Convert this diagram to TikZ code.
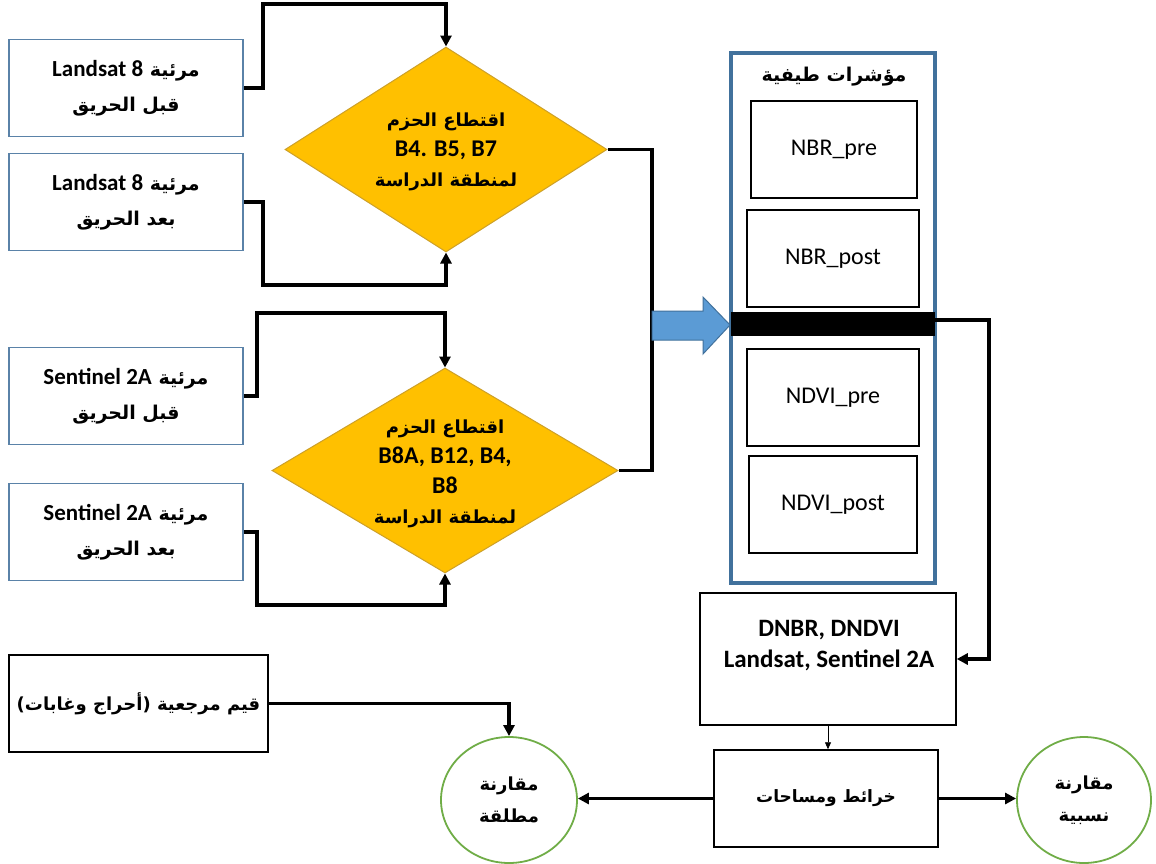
\documentclass[tikz,border=0pt]{standalone}
\usepackage{fontspec}
\usetikzlibrary{arrows.meta,shapes.geometric}
\TeXXeTstate=1
\newfontfamily\arb[Script=Arabic]{DejaVu Sans}
\newfontfamily\lat{Carlito}
\newcommand{\AR}[1]{{\arb\beginR#1\endR}}
\newcommand{\LA}[1]{{\lat#1}}
\definecolor{lbox}{RGB}{90,130,168}
\definecolor{dfill}{RGB}{255,192,0}
\definecolor{dborder}{RGB}{205,160,40}
\definecolor{obox}{RGB}{65,113,156}
\definecolor{barrow}{RGB}{91,155,213}
\definecolor{cgreen}{RGB}{112,173,71}
\begin{document}
\begin{tikzpicture}[x=1pt,y=-1pt,
  srcbox/.style={draw=lbox, line width=1.5pt, fill=white, minimum width=234pt, minimum height=97pt, inner sep=0pt, align=center, font=\bfseries\fontsize{19}{35}\selectfont},
  diam/.style={draw=dborder, fill=dfill, line width=1pt, shape=diamond, inner sep=0pt},
  dtext/.style={align=center, inner sep=0pt, font=\bfseries\fontsize{18}{30}\selectfont},
  ibox/.style={draw, line width=1.5pt, minimum height=97pt, inner sep=0pt, font=\lat\fontsize{24}{28}\selectfont},
  bbox/.style={draw, line width=1.5pt, inner sep=0pt, align=center},
  circ/.style={draw=cgreen, line width=1.8pt, shape=ellipse, inner sep=0pt, align=center, font=\bfseries\fontsize{18}{32}\selectfont},
  line/.style={line width=3.2pt},
  conn/.style={line width=3.2pt, -{Triangle[length=11pt,width=11pt]}},
  thin/.style={line width=0.8pt, -{Triangle[length=7pt,width=6pt]}}
]
\useasboundingbox (0,0) rectangle (1156,863);
\fill[white] (0,0) rectangle (1156,863);

% source boxes
\node[srcbox] (lpre) at (126,88) {\AR{مرئية \beginL\LA{\fontsize{23}{35}\selectfont Landsat 8}\endL}\\ \AR{قبل الحريق}};
\node[srcbox] (lpost) at (126,202) {\AR{مرئية \beginL\LA{\fontsize{23}{35}\selectfont Landsat 8}\endL}\\ \AR{بعد الحريق}};
\node[srcbox] (spre) at (126,396) {\AR{مرئية \beginL\LA{\fontsize{23}{35}\selectfont Sentinel 2A}\endL}\\ \AR{قبل الحريق}};
\node[srcbox] (spost) at (126,532) {\AR{مرئية \beginL\LA{\fontsize{23}{35}\selectfont Sentinel 2A}\endL}\\ \AR{بعد الحريق}};

% diamonds
\node[diam, minimum width=322pt, minimum height=205pt] (d1) at (446,149.5) {};
\node[dtext] (d1t) at (446,152) {\AR{اقتطاع الحزم}\\ \LA{\fontsize{24}{30}\selectfont B4. B5, B7}\\ \AR{لمنطقة الدراسة}};
\node[diam, minimum width=346pt, minimum height=205pt] (d2) at (445,470.5) {};
\node[dtext] (d2t) at (445,474) {\AR{اقتطاع الحزم}\\ \LA{\fontsize{24}{30}\selectfont B8A, B12, B4,}\\ \LA{\fontsize{24}{30}\selectfont B8}\\ \AR{لمنطقة الدراسة}};

% connectors into diamonds
\draw[conn] (lpre.east) -- (263,88) -- (263,4) -| (d1.north);
\draw[conn] (lpost.east) -- (263,202) -- (263,285) -| (d1.south);
\draw[conn] (spre.east) -- (257,396) -- (257,313) -| (d2.north);
\draw[conn] (spost.east) -- (257,532) -- (257,605) -| (d2.south);

% blue arrow
\draw[line] (d1.east) -- (652,149.5) |- (d2.east);
\draw[draw=obox, fill=barrow, line width=1pt] (652,311) -- (703,311) -- (703,297) -- (730,325) -- (703,354) -- (703,340) -- (652,340) -- cycle;

% outer box with indices
\node[draw=obox, line width=4pt, minimum width=204pt, minimum height=530pt, inner sep=0pt] (outer) at (833,318) {};
\node[font=\bfseries\fontsize{19}{22}\selectfont, inner sep=0pt] (title) at (834,77) {\AR{مؤشرات طيفية}};
\node[ibox, minimum width=166pt] (nbrpre) at (834,149.5) {NBR\_pre};
\node[ibox, minimum width=172pt] (nbrpost) at (833,258.5) {NBR\_post};
\node[ibox, minimum width=172pt] (ndvipre) at (833,397.5) {NDVI\_pre};
\node[ibox, minimum width=168pt] (ndvipost) at (833,504.5) {NDVI\_post};
\node[fill=black, minimum width=204pt, minimum height=24pt, inner sep=0pt] (bar) at (833,324) {};

% DNBR box
\node[bbox, minimum width=256pt, minimum height=132pt] (dnbr) at (828,659) {};
\node[align=center, inner sep=0pt, font=\bfseries\lat\fontsize{25}{31}\selectfont] (dnbrt) at (829,646) {DNBR, DNDVI\\ Landsat, Sentinel 2A};
\draw[conn] ([yshift=4pt]bar.east) -- (989,320) |- (dnbr.east);

% maps box
\node[bbox, minimum width=224pt, minimum height=97pt, font=\bfseries\fontsize{17}{22}\selectfont] (maps) at (826,798.5) {\AR{خرائط ومساحات}};
\draw[thin] (dnbr.south) -- (dnbr.south |- maps.north);

% circles
\node[circ, minimum width=136pt, minimum height=126pt] (cabs) at (509,800) {\AR{مقارنة}\\ \AR{مطلقة}};
\node[circ, minimum width=134pt, minimum height=126pt] (crel) at (1084,800) {\AR{مقارنة}\\ \AR{نسبية}};
\draw[conn] (maps.west) -- (maps.west -| cabs.east);
\draw[conn] (maps.east) -- (maps.east -| crel.west);

% reference box
\node[bbox, minimum width=259pt, minimum height=97pt, font=\bfseries\fontsize{18}{22}\selectfont] (ref) at (138.5,703.5) {\AR{قيم مرجعية (أحراج وغابات)}};
\draw[conn] (ref.east) -| (cabs.north);
\end{tikzpicture}
\end{document}
